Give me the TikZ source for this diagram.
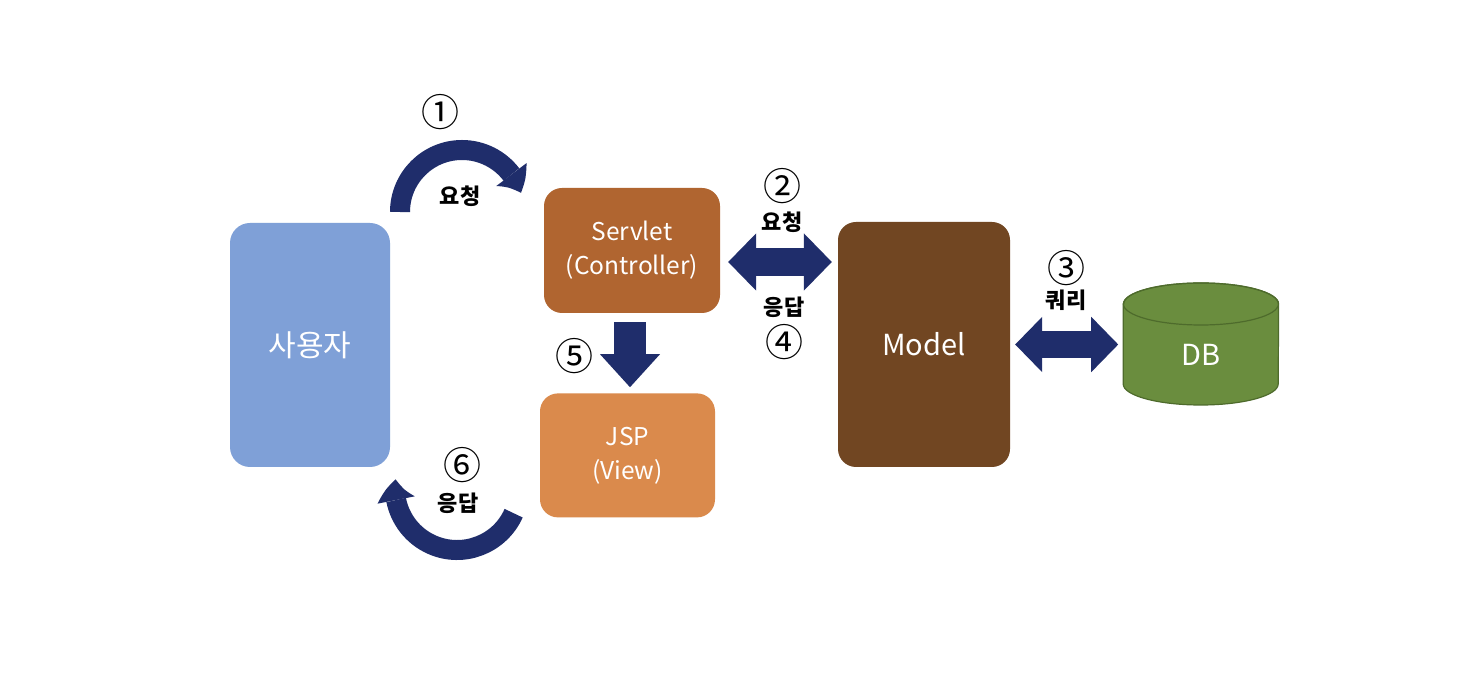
\documentclass[tikz,border=0pt]{standalone}
\usepackage{fontspec}
\setmainfont{Noto Sans CJK KR}
\usetikzlibrary{arrows.meta,bending,calc,positioning,backgrounds}

\definecolor{userblue}{RGB}{127,160,215}
\definecolor{ctrlbrown}{RGB}{176,101,48}
\definecolor{vieworange}{RGB}{218,138,76}
\definecolor{modelbrown}{RGB}{113,70,34}
\definecolor{dbgreen}{RGB}{106,141,62}
\definecolor{dbedge}{RGB}{78,107,44}
\definecolor{navy}{RGB}{31,45,107}

\tikzset{
  box/.style={rounded corners=18pt,inner sep=0pt,text=white,align=center,
    font=\fontsize{24.5}{34}\selectfont},
  num/.style={font=\fontsize{38}{38}\selectfont,inner sep=0pt},
  lbl/.style={font=\fontsize{22}{22}\selectfont\bfseries,inner sep=0pt},
  dblarrow/.style={draw=navy,line width=#1,
    {Triangle[width=2.05*#1,length=#1,line width=0pt]}-{Triangle[width=2.05*#1,length=#1,line width=0pt]}},
  downarrow/.style={draw=navy,line width=32pt,
    -{Triangle[width=60pt,length=33pt,line width=0pt]}},
  bendarrow/.style={draw=navy,line width=20pt,
    -{Triangle[width=38pt,length=21pt,line width=0pt,bend]}}
}

\begin{document}
\begin{tikzpicture}[x=1pt,y=1pt]
  \useasboundingbox (0,0) rectangle (1468,686);

  \node[box,fill=userblue,minimum width=160pt,minimum height=244pt,rounded corners=20pt,
    font=\fontsize{30}{30}\selectfont]
    (user) at (310,341) {사용자};
  \node[box,fill=ctrlbrown,minimum width=176pt,minimum height=125pt]
    (servlet) at (632,435.5) {Servlet\\(Controller)};
  \node[box,fill=vieworange,minimum width=175pt,minimum height=124pt]
    (jsp) [below=80pt of servlet,xshift=-4.5pt] {JSP\\(View)};
  \node[box,fill=modelbrown,minimum width=172pt,minimum height=245pt,
    font=\fontsize{29}{29}\selectfont]
    (model) at (924,341.5) {Model};
  \node[box,minimum width=155pt,minimum height=100pt,font=\fontsize{29}{29}\selectfont]
    (db) [right=113pt of model,yshift=-10.5pt] {DB};

  % white page, then the cylinder behind the DB text
  \begin{scope}[on background layer]
    \fill[white] (0,0) rectangle (1468,686);
    \fill[dbgreen,draw=dbedge,line width=1.2pt]
      ($(db.west)+(0,51)$) -- ($(db.west)+(0,-29)$)
      arc (180:360:77.5 and 21) -- ($(db.east)+(0,51)$)
      arc (0:180:77.5 and 21) -- cycle;
    \draw[dbedge,line width=1.2pt] ($(db.center)+(0,51)$) ellipse (77.5 and 21);
  \end{scope}

  % connectors
  \draw[dblarrow=28pt] ($(servlet.east)+(8,-11.5)$) -- ($(servlet.east -| model.west)+(-6,-11.5)$);
  \draw[dblarrow=27pt] ($(model.east)+(5,0)$) -- ($(model.east -| db.west)+(-5,0)$);
  \draw[downarrow] ($(servlet.south)+(-2,-9)$) -- ($(servlet.south |- jsp.north)+(-2,6)$);

  \coordinate (reqc) at (462,474);
  \coordinate (resc) at (457,198);
  \draw[bendarrow] ($(reqc)+(180:62)$) arc (180:18:62);
  \draw[bendarrow] ($(resc)+(-24:62)$) arc (-24:-188:62);

  % labels
  \node[num] (n1) at (440,574) {①};
  \node[lbl] (l1) at (460,490) {요청};
  \node[num] (n2) at (782,500) {②};
  \node[lbl] (l2) at (782,464) {요청};
  \node[lbl] (l4) at (784,379) {응답};
  \node[num] (n4) at (784,344) {④};
  \node[num] (n3) at (1066,418) {③};
  \node[lbl] (l3) at (1066,386) {쿼리};
  \node[num] (n5) at (574,330) {⑤};
  \node[num] (n6) at (462,221) {⑥};
  \node[lbl] (l6) at (458,183) {응답};
\end{tikzpicture}
\end{document}
